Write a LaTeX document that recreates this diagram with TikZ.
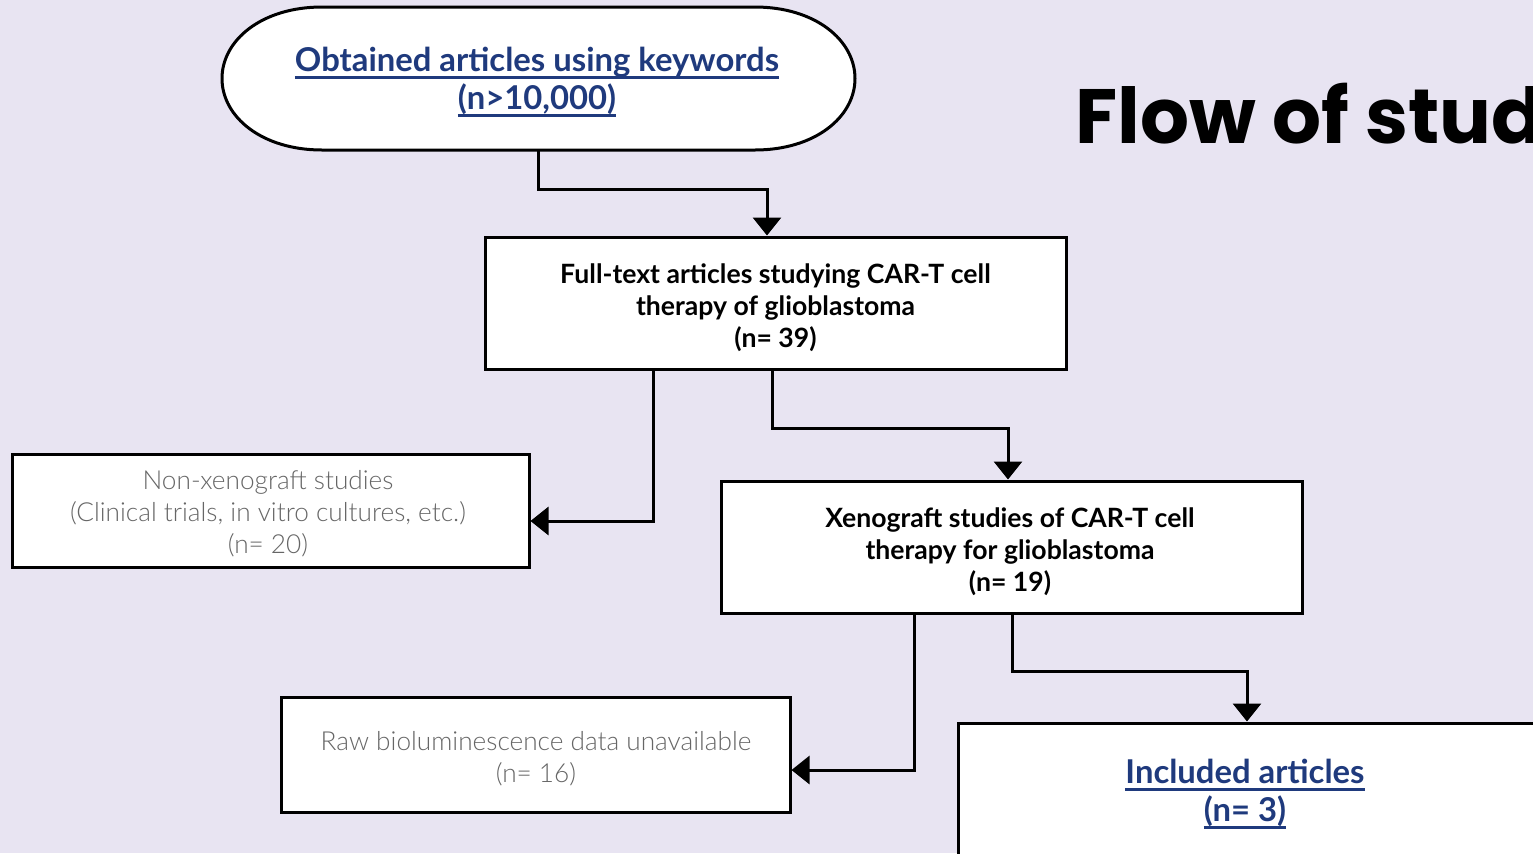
\documentclass[tikz,border=0pt]{standalone}
\usepackage{fontspec}
\setmainfont{Lato}
\newfontfamily\lightfont{Lato Light}
\newfontfamily\titlefont{Poppins}
\usetikzlibrary{arrows.meta,calc}
\definecolor{bgc}{HTML}{E8E4F2}
\definecolor{bluec}{HTML}{1F3A7D}
\definecolor{grayc}{HTML}{666666}
\newcommand\myul[1]{\setbox0\hbox{#1}\rlap{\rule[-3.6pt]{\wd0}{1.3pt}}\box0}
\begin{document}
\begin{tikzpicture}[x=0.5pt,y=-0.5pt,
  box/.style={draw=black,line width=1.5pt,fill=white,inner sep=0pt},
  boldtxt/.style={align=center,font=\fontsize{13.3}{16}\selectfont\bfseries},
  graytxt/.style={align=center,text=grayc,font=\lightfont\fontsize{13.1}{16}\selectfont},
  bluetxt/.style={align=center,text=bluec,font=\fontsize{16.4}{19}\selectfont\bfseries},
  conn/.style={line width=1.5pt,-{Triangle[width=14pt,length=9pt]}}]
\useasboundingbox (0,0) rectangle (1533,853);
\clip (0,0) rectangle (1533,853);
\fill[bgc] (0,0) rectangle (1533,853);
% top stadium
\draw[line width=1.5pt,fill=white] (322,7) -- (755,7) .. controls (815,7) and (855,40) .. (855,78.5)
  .. controls (855,117) and (815,150) .. (755,150) -- (322,150)
  .. controls (262,150) and (222,117) .. (222,78.5) .. controls (222,40) and (262,7) .. (322,7) -- cycle;
\node[minimum width=316.5pt,minimum height=71.5pt,inner sep=0pt] (top) at (538.5,78.5) {};
\node[bluetxt] (t0) at (537,82) {\myul{Obtained articles using keywords}\\\myul{(n>10,000)}};
% boxes
\node[box,minimum width=290.5pt,minimum height=66pt] (b1) at (775.5,303) {};
\node[boldtxt] (t1) at (775.5,308) {Full-text articles studying CAR-T cell\\therapy of glioblastoma\\(n= 39)};
\node[box,minimum width=258.5pt,minimum height=56.5pt] (b2) at (270.5,510.5) {};
\node[graytxt] (t2) at (268,514) {Non-xenograft studies\\(Clinical trials, in vitro cultures, etc.)\\(n= 20)};
\node[box,minimum width=290.5pt,minimum height=66pt] (b3) at (1011.5,547) {};
\node[boldtxt] (t3) at (1010,552) {Xenograft studies of CAR-T cell\\therapy for glioblastoma\\(n= 19)};
\node[box,minimum width=254.5pt,minimum height=57.5pt] (b4) at (535.5,754.5) {};
\node[graytxt] (t4) at (536,759) {Raw bioluminescence data unavailable\\(n= 16)};
\node[box,minimum width=310pt,minimum height=80pt] (b5) at (1268,803) {};
\node[bluetxt] (t5) at (1245,794) {\myul{Included articles}\\\myul{(n= 3)}};
% title
\node[anchor=base west,inner sep=0pt,font=\titlefont\bfseries\fontsize{38.5}{46}\selectfont] (title) at (1075,143) {Flow of studies};
% connectors
\draw[conn] (top.south) -- ($(top.south)+(0,39)$) -| ($(b1.north)+(-8.5,0)$);
\draw[conn] ($(b1.south)+(-122.5,0)$) |- ($(b2.east)+(0,10.5)$);
\draw[conn] ($(b1.south)+(-3.5,0)$) -- ($(b1.south)+(-3.5,58)$) -| ($(b3.north)+(-3.5,0)$);
\draw[conn] ($(b3.south)+(-97.5,0)$) |- ($(b4.east)+(0,15.5)$);
\draw[conn] ($(b3.south)+(0.5,0)$) -- ($(b3.south)+(0.5,57)$) -| ($(b5.north)+(-21,0)$);
\end{tikzpicture}
\end{document}
